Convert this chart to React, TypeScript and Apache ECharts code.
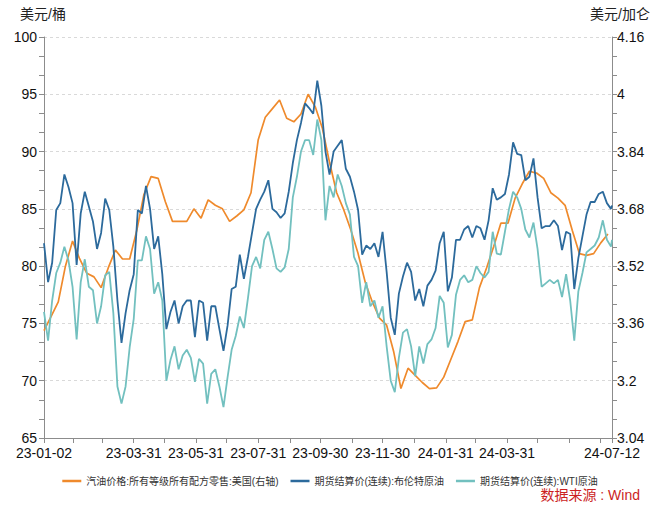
import React, { useEffect, useRef } from "react";
import * as echarts from "echarts";

// Daily crude futures sampled every 4 calendar days from 2023-01-02 (last point = 2024-07-12)
const STEP_DAYS = 4;
const brentValues = [
  82.0, 78.6, 80.3, 84.9, 85.5, 88.0, 86.9, 85.5, 80.1, 84.6,
  86.5, 85.2, 83.9, 81.5, 82.9, 85.9, 84.9, 81.7, 77.0, 73.3,
  75.9, 77.9, 79.3, 84.9, 84.6, 87.0, 85.0, 81.5, 82.6, 79.3,
  74.5, 76.0, 77.0, 75.0, 76.5, 77.0, 77.0, 73.8, 77.0, 76.8,
  73.5, 76.5, 76.5, 74.5, 72.6, 74.8, 78.0, 78.2, 81.0, 78.9,
  80.8, 82.9, 85.0, 85.8, 86.5, 87.5, 85.0, 84.7, 84.2, 84.6,
  86.5, 89.0, 91.0, 92.5, 94.2, 93.8, 93.3, 96.2, 94.0, 90.0,
  88.0, 90.0, 90.5, 91.0, 88.5, 87.8, 86.5, 84.9, 81.0, 81.8,
  81.5, 82.0, 80.8, 83.0, 79.5, 75.5, 74.0, 77.6, 79.1, 80.3,
  79.5, 77.0, 78.0, 76.5, 78.3, 78.8, 79.6, 82.0, 83.0, 77.8,
  79.0, 82.3, 82.3, 83.2, 83.5, 82.5, 83.5, 83.3, 82.3, 84.0,
  86.8, 85.8, 86.0, 86.3, 88.0, 90.8, 89.8, 89.7, 87.5, 87.8,
  89.4, 86.0, 83.3, 83.5, 83.5, 84.0, 83.5, 81.4, 83.0, 82.8,
  78.0, 80.7, 82.6, 84.5, 85.6, 85.6, 86.3, 86.5, 85.5, 85.0,
  85.3,
];
const wtiValues = [
  76.0, 73.5, 77.0, 79.4, 80.3, 81.7, 80.5, 78.2, 73.6, 78.6,
  80.6, 78.2, 77.9, 75.0, 76.5, 79.2, 79.5, 75.9, 69.5, 68.0,
  69.5, 72.9, 75.4, 80.5, 80.5, 82.6, 81.5, 77.6, 78.6, 77.0,
  70.0, 71.8, 73.0, 71.0, 72.2, 72.7, 72.0, 69.9, 71.9, 71.5,
  68.0, 70.6, 71.0, 69.5, 67.7, 70.3, 72.7, 73.9, 75.6, 74.6,
  77.2, 80.0, 80.8, 79.8, 82.3, 83.0, 81.5, 79.8, 79.5, 79.9,
  81.5, 86.0, 87.8, 90.0, 91.0, 91.0, 89.7, 92.8, 91.0, 84.0,
  87.0, 86.0, 88.0, 87.0, 85.5, 84.5, 80.8, 80.0, 76.8, 78.6,
  76.5, 77.0, 75.5, 76.5, 73.0, 70.0, 69.0, 72.0, 74.2, 74.5,
  73.0, 70.4, 73.0, 71.5, 73.2, 73.6, 74.6, 77.4, 76.8, 72.9,
  74.0, 77.5, 78.8, 79.2, 78.6, 78.8, 80.0, 79.4, 79.0, 79.5,
  83.0, 81.1, 81.0, 83.0, 85.0, 86.5, 86.0, 85.0, 83.2, 82.5,
  83.8, 81.5, 78.2, 78.5, 78.8, 78.5, 78.8, 77.3, 79.3, 77.0,
  73.5, 77.8, 79.4, 81.2, 81.5, 81.8, 82.5, 84.0, 82.3, 81.7,
  82.3,
];
// Weekly US retail gasoline (Mondays from 2023-01-02), right axis
const GAS_STEP_DAYS = 7;
const gasolineValues = [
  3.34, 3.38, 3.42, 3.52, 3.59, 3.54, 3.50, 3.49, 3.46, 3.515,
  3.565, 3.54, 3.54, 3.62, 3.72, 3.77, 3.765, 3.70, 3.645, 3.645,
  3.645, 3.68, 3.654, 3.705, 3.69, 3.68, 3.645, 3.66, 3.677, 3.725,
  3.872, 3.936, 3.96, 3.984, 3.933, 3.923, 3.945, 4.0, 3.965, 3.905,
  3.81, 3.725, 3.677, 3.62, 3.555, 3.475, 3.42, 3.375, 3.355, 3.28,
  3.178, 3.235, 3.215, 3.195, 3.178, 3.18, 3.21, 3.26, 3.31, 3.365,
  3.37, 3.46, 3.515, 3.575, 3.64, 3.64, 3.71, 3.75, 3.785, 3.78,
  3.765, 3.725, 3.71, 3.69, 3.62, 3.555, 3.55, 3.555, 3.585, 3.61,
];
const xLabelDates = [
  "23-01-02", "23-03-31", "23-05-31", "23-07-31", "23-09-30",
  "23-11-30", "24-01-31", "24-03-31", "24-07-12",
];
const seriesNames = [
  "汽油价格:所有等级所有配方零售:美国(右轴)",
  "期货结算价(连续):布伦特原油",
  "期货结算价(连续):WTI原油",
];

const pad = (n: number) => (n < 10 ? "0" + n : "" + n);
function buildDays() {
  const start = Date.UTC(2023, 0, 2);
  const end = Date.UTC(2024, 6, 12);
  const days: string[] = [];
  const monthEnds = new Set<string>();
  for (let t = start; t <= end; t += 86400000) {
    const d = new Date(t);
    const s = pad(d.getUTCFullYear() % 100) + "-" + pad(d.getUTCMonth() + 1) + "-" + pad(d.getUTCDate());
    days.push(s);
    const nx = new Date(t + 86400000);
    if (nx.getUTCDate() === 1) monthEnds.add(s);
  }
  return { days, monthEnds };
}

const FONT = "'Liberation Sans', 'Noto Sans CJK SC', sans-serif";

export default function App() {
  const ref = useRef<HTMLDivElement>(null);
  useEffect(() => {
    const chart = echarts.init(ref.current!, null, { renderer: "svg" });
    const { days, monthEnds } = buildDays();
    const last = days.length - 1;
    const labelSet = new Set(xLabelDates);
    const brentData = brentValues.map((v, i) => [Math.min(i * STEP_DAYS, last), v]);
    const wtiData = wtiValues.map((v, i) => [Math.min(i * STEP_DAYS, last), v]);
    const gasData = gasolineValues.map((v, k) => [Math.min(k * GAS_STEP_DAYS, last), v]);
    const axisGray = "#8c8c8c";
    chart.setOption({
      animation: false,
      textStyle: { fontFamily: FONT },
      grid: { left: 44, right: 48, top: 37, bottom: 73, containLabel: false },
      legend: {
        top: 471,
        left: "center",
        icon: "rect",
        itemWidth: 19,
        itemHeight: 2.5,
        itemGap: 12,
        textStyle: { fontSize: 10, color: "#333", fontFamily: FONT },
        data: seriesNames,
      },
      xAxis: {
        type: "category",
        data: days,
        boundaryGap: false,
        axisLine: { lineStyle: { color: axisGray, width: 1 } },
        axisTick: {
          show: true,
          length: 5,
          lineStyle: { color: axisGray },
          interval: (idx: number, val: string) => idx === 0 || idx === last || monthEnds.has(val),
        },
        axisLabel: {
          interval: (idx: number, val: string) => labelSet.has(val),
          color: "#111",
          fontSize: 14,
          margin: 8,
          fontFamily: FONT,
        },
        splitLine: { show: false },
      },
      yAxis: [
        {
          type: "value",
          min: 65,
          max: 100,
          interval: 5,
          position: "left",
          axisLine: { show: true, lineStyle: { color: axisGray } },
          axisTick: { show: true, length: 5, lineStyle: { color: axisGray } },
          minorTick: { show: true, splitNumber: 3, length: 5, lineStyle: { color: axisGray } },
          axisLabel: { color: "#111", fontSize: 14, margin: 7, fontFamily: FONT },
          splitLine: { show: true, lineStyle: { color: "#d9d9d9", type: [3, 3] } },
        },
        {
          type: "value",
          min: 3.04,
          max: 4.16,
          interval: 0.16,
          position: "right",
          axisLine: { show: true, lineStyle: { color: axisGray } },
          axisTick: { show: true, length: 5, lineStyle: { color: axisGray } },
          minorTick: { show: true, splitNumber: 3, length: 5, lineStyle: { color: axisGray } },
          axisLabel: {
            color: "#111",
            fontSize: 14,
            margin: 5,
            fontFamily: FONT,
            formatter: (v: number) => String(parseFloat(v.toFixed(2))),
          },
          splitLine: { show: false },
        },
      ],
      series: [
        {
          name: seriesNames[0],
          type: "line",
          yAxisIndex: 1,
          data: gasData,
          showSymbol: false,
          symbol: "none",
          color: "#ef8a2c",
          lineStyle: { width: 1.7, color: "#ef8a2c" },
          z: 2,
        },
        {
          name: seriesNames[1],
          type: "line",
          yAxisIndex: 0,
          data: brentData,
          showSymbol: false,
          symbol: "none",
          color: "#2c6a9c",
          lineStyle: { width: 1.8, color: "#2c6a9c" },
          z: 3,
        },
        {
          name: seriesNames[2],
          type: "line",
          yAxisIndex: 0,
          data: wtiData,
          showSymbol: false,
          symbol: "none",
          color: "#72c0bf",
          lineStyle: { width: 1.8, color: "#72c0bf" },
          z: 4,
        },
      ],
      graphic: [
        {
          type: "text",
          left: 20,
          top: 7,
          style: { text: "美元/桶", fontSize: 14, fill: "#222", fontFamily: FONT },
        },
        {
          type: "text",
          right: 10,
          top: 7,
          style: { text: "美元/加仑", fontSize: 14, fill: "#222", fontFamily: FONT },
        },
        {
          type: "text",
          right: 20,
          top: 488,
          style: { text: "数据来源 : Wind", fontSize: 14, fill: "#cc1f1f", fontFamily: FONT },
        },
      ],
    });
    return () => chart.dispose();
  }, []);
  return (
    <div
      ref={ref}
      style={{ position: "absolute", left: 0, top: 0, width: 660, height: 511, background: "#fff" }}
    />
  );
}
